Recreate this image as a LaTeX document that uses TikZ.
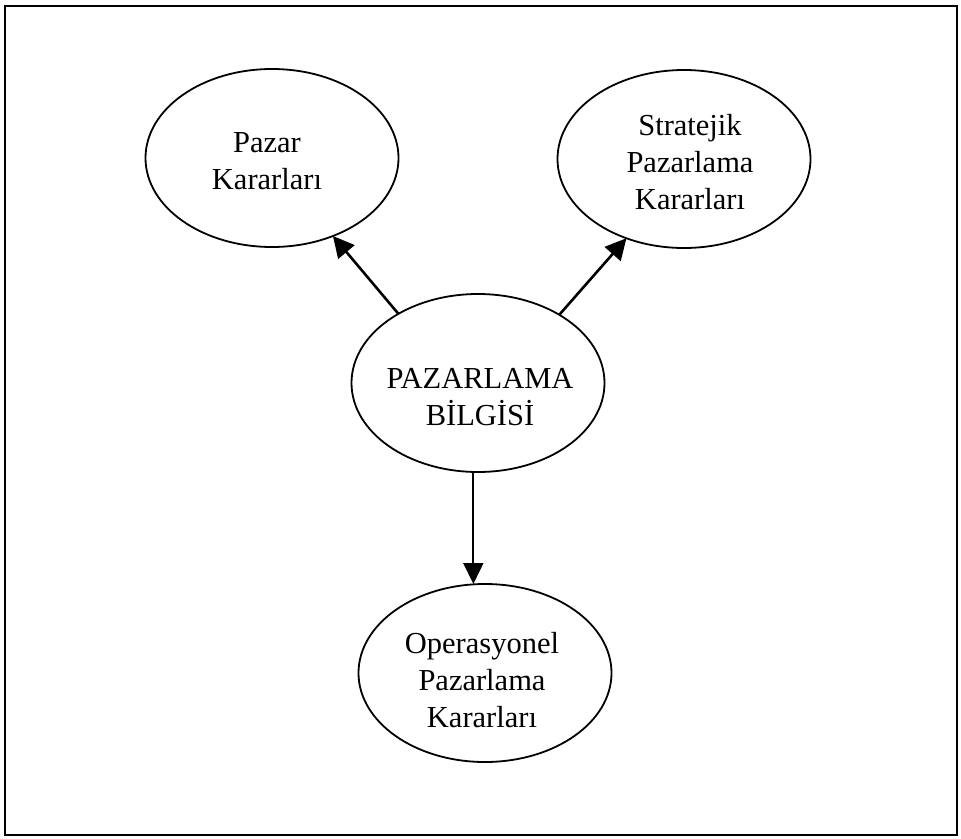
\documentclass[tikz,border=0pt]{standalone}
\usepackage{fontspec}
\setmainfont{Liberation Serif}
\usetikzlibrary{arrows.meta,shapes.geometric}

\begin{document}
\begin{tikzpicture}[x=1pt,y=-1pt,
  oval/.style={draw, ellipse, line width=1.8pt, inner sep=0pt, outer sep=0pt,
    minimum width=253pt, minimum height=178pt},
  lbl/.style={align=center, inner sep=0pt, font=\fontsize{30.5}{37}\selectfont},
  flow/.style={line width=2.6pt, -{Triangle[length=21pt,width=21pt]}},
  flowthin/.style={line width=1.8pt, -{Triangle[length=21pt,width=20pt]}}]

  \useasboundingbox (0,0) rectangle (961,838);
  \draw[line width=2.5pt] (5,6) rectangle (957,835);

  % the four decision ellipses
  \node[oval] (pazar) at (272,158) {};
  \node[oval] (strat) at (684,159) {};
  \node[oval] (bilgi) at (478,383) {};
  \node[oval] (oper)  at (485,673) {};

  % their labels
  \node[lbl] (tpazar) at (267,161) {Pazar\\Kararları};
  \node[lbl] (tstrat) at (690,162) {Stratejik\\Pazarlama\\Kararları};
  \node[lbl] (tbilgi) at (480,397) {PAZARLAMA\\BİLGİSİ};
  \node[lbl] (toper)  at (482,680) {Operasyonel\\Pazarlama\\Kararları};

  % information flows out of the central node
  \draw[flow] (bilgi.139) -- (pazar.-52);
  \draw[flow] (bilgi.40) -- (strat.-126.5);
  \draw[flowthin] (bilgi.-93) -- (bilgi.-93 |- oper.north);
\end{tikzpicture}
\end{document}
